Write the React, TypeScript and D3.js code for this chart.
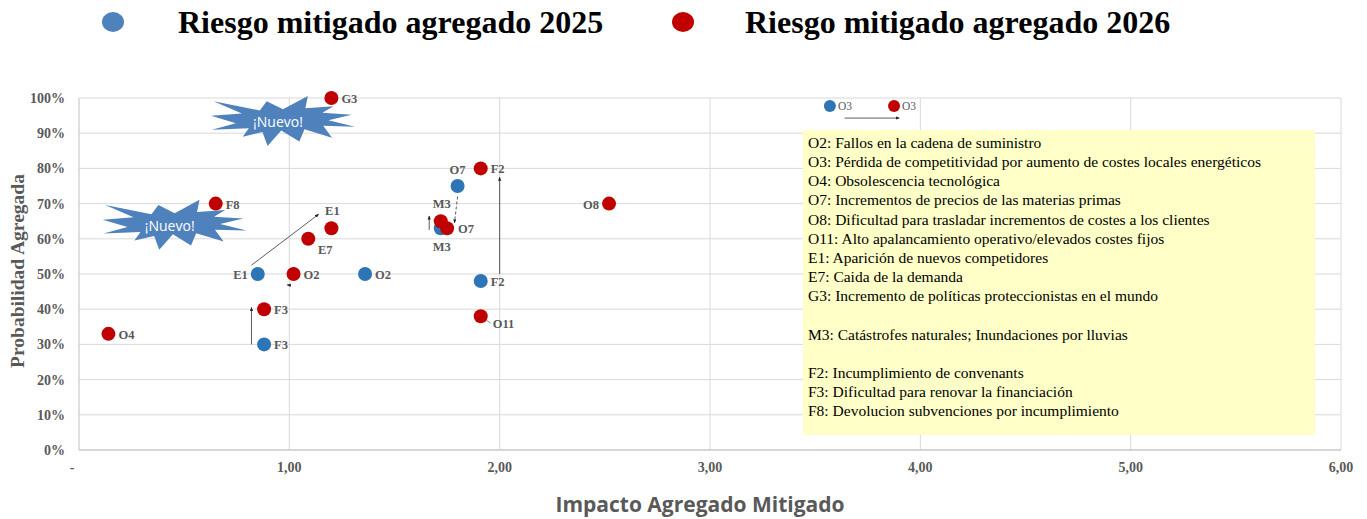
import React from 'react';
import * as d3 from 'd3';

// datos (impacto, probabilidad)
const riesgos2025 = [
  { id: 'E1', impacto: 0.85, prob: 0.50 },
  { id: 'O2', impacto: 1.36, prob: 0.50 },
  { id: 'F3', impacto: 0.88, prob: 0.30 },
  { id: 'O7', impacto: 1.80, prob: 0.75 },
  { id: 'M3', impacto: 1.72, prob: 0.63 },
  { id: 'F2', impacto: 1.91, prob: 0.48 },
  { id: 'O3', impacto: 3.57, prob: 0.977 },
];

const riesgos2026 = [
  { id: 'G3', impacto: 1.20, prob: 1.00 },
  { id: 'F8', impacto: 0.65, prob: 0.70 },
  { id: 'E1', impacto: 1.20, prob: 0.63 },
  { id: 'E7', impacto: 1.09, prob: 0.60 },
  { id: 'O2', impacto: 1.02, prob: 0.50 },
  { id: 'F3', impacto: 0.88, prob: 0.40 },
  { id: 'O4', impacto: 0.14, prob: 0.33 },
  { id: 'M3', impacto: 1.72, prob: 0.65 },
  { id: 'O7', impacto: 1.75, prob: 0.63 },
  { id: 'F2', impacto: 1.91, prob: 0.80 },
  { id: 'O8', impacto: 2.52, prob: 0.70 },
  { id: 'O11', impacto: 1.91, prob: 0.38 },
  { id: 'O3', impacto: 3.875, prob: 0.977 },
];

// flechas de evolución 2025 -> 2026
const flechas = [
  { x1: 0.82, y1: 0.525, x2: 1.14, y2: 0.67, dash: false },
  { x1: 0.82, y1: 0.30, x2: 0.82, y2: 0.405, dash: false },
  { x1: 2.0, y1: 0.50, x2: 2.0, y2: 0.775, dash: false },
  { x1: 1.80, y1: 0.72, x2: 1.785, y2: 0.645, dash: true },
  { x1: 1.665, y1: 0.625, x2: 1.665, y2: 0.665, dash: false },
  { x1: 3.64, y1: 0.943, x2: 3.90, y2: 0.943, dash: false },
  { x1: 1.005, y1: 0.468, x2: 0.99, y2: 0.469, dash: false },
];

const xTicks = [0, 1, 2, 3, 4, 5, 6];
const yTicks = [0, 0.1, 0.2, 0.3, 0.4, 0.5, 0.6, 0.7, 0.8, 0.9, 1.0];

const leyenda = ['Riesgo mitigado agregado 2025', 'Riesgo mitigado agregado 2026'];

const notas = [
  'O2: Fallos en la cadena de suministro',
  'O3: Pérdida de competitividad por aumento de costes locales energéticos',
  'O4: Obsolescencia tecnológica',
  'O7: Incrementos de precios de las materias primas',
  'O8: Dificultad para trasladar incrementos de costes a los clientes',
  'O11: Alto apalancamiento operativo/elevados costes fijos',
  'E1: Aparición de nuevos competidores',
  'E7: Caida de la demanda',
  'G3: Incremento de políticas proteccionistas en el mundo',
  '',
  'M3: Catástrofes naturales; Inundaciones por lluvias',
  '',
  'F2: Incumplimiento de convenants',
  'F3: Dificultad para renovar la financiación',
  'F8: Devolucion subvenciones por incumplimiento',
];

// estrellas "¡Nuevo!" (centro en coordenadas de datos)
const nuevos = [
  { impacto: 0.97, prob: 0.935 },
  { impacto: 0.455, prob: 0.64 },
];

// forma "explosión 1" de Office, normalizada a 21600
const sello = [
  [10800, 5800], [14522, 0], [14155, 5325], [18380, 4457], [16702, 7315],
  [21097, 8137], [17607, 10475], [21600, 13290], [16837, 12942], [18145, 18095],
  [14020, 14457], [13247, 19737], [10532, 14935], [8485, 21600], [7715, 15627],
  [4762, 17617], [5667, 13937], [135, 14587], [3722, 11775], [0, 8615],
  [4627, 7617], [370, 2295], [7312, 6320], [8352, 2295],
];

// posición de las etiquetas [dx, dy, anchor]
const pos2025: Record<string, [number, number, string]> = {
  E1: [-10, 5, 'end'], O2: [10, 5, 'start'], F3: [10, 5, 'start'],
  O7: [0, -12, 'middle'], M3: [1, 23, 'middle'], F2: [10, 5, 'start'], O3: [8, 4, 'start'],
};
const pos2026: Record<string, [number, number, string]> = {
  G3: [10, 5, 'start'], F8: [10, 5, 'start'], E1: [1, -13, 'middle'],
  E7: [17, 15, 'middle'], O2: [10, 5, 'start'], F3: [10, 5, 'start'],
  O4: [10, 5, 'start'], M3: [1, -13, 'middle'], O7: [11, 5, 'start'],
  F2: [10, 5, 'start'], O8: [-10, 5, 'end'], O11: [12, 12, 'start'], O3: [8, 4, 'start'],
};

const AZUL = '#2E75B6';
const ROJO = '#C00000';
const GRIS = '#595959';

const W = 1367;
const H = 519;

const App: React.FC = () => {
  const x = d3.scaleLinear().domain([0, 6]).range([79, 1341]);
  const y = d3.scaleLinear().domain([0, 1]).range([450, 98]);
  const fmtX = (v: number) => (v === 0 ? '-' : d3.format('.2f')(v).replace('.', ','));
  const fmtY = d3.format('.0%');

  const sx = d3.scaleLinear().domain([0, 21600]).range([-72, 72]);
  const sy = d3.scaleLinear().domain([0, 21600]).range([-25, 25]);
  const selloPath = (d3.line()(sello.map(p => [sx(p[0]), sy(p[1])] as [number, number])) || '') + 'Z';

  const serif = '"Liberation Serif", "Times New Roman", serif';

  const punto = (d: { id: string; impacto: number; prob: number }, color: string,
    pos: Record<string, [number, number, string]>, key: string) => {
    const p = pos[d.id];
    const peq = d.id === 'O3';
    return (
      <g key={key}>
        <circle cx={x(d.impacto)} cy={y(d.prob)} r={peq ? 6 : 7} fill={color} />
        <text x={x(d.impacto) + p[0]} y={y(d.prob) + p[1]} textAnchor={p[2] as any}
          fontFamily={serif} fontWeight={peq ? 'normal' : 'bold'} fontSize={peq ? 11.5 : 12.5}
          fill={GRIS}>{d.id}</text>
      </g>
    );
  };

  const o11 = riesgos2026.find(d => d.id === 'O11')!;

  return (
    <svg width={W} height={H} style={{ position: 'absolute', left: 0, top: 0, background: '#fff' }}>
      <defs>
        <marker id="punta" viewBox="0 0 10 10" refX="9" refY="5" markerWidth="5" markerHeight="5" orient="auto">
          <path d="M0,1 L10,5 L0,9 Z" fill="#222" />
        </marker>
      </defs>

      {/* leyenda */}
      <ellipse cx={113} cy={22} rx={11} ry={10} fill="#4F81BD" />
      <text x={178} y={33} fontFamily={serif} fontWeight="bold" fontSize={32} fill="#000">{leyenda[0]}</text>
      <ellipse cx={683} cy={22} rx={11} ry={10} fill={ROJO} />
      <text x={745} y={33} fontFamily={serif} fontWeight="bold" fontSize={32} fill="#000">{leyenda[1]}</text>

      {/* rejilla */}
      {yTicks.map(t => (
        <line key={'gy' + t} x1={x(0)} x2={x(6)} y1={y(t)} y2={y(t)} stroke="#D9D9D9" strokeWidth={1} />
      ))}
      {xTicks.filter(t => t > 0).map(t => (
        <line key={'gx' + t} x1={x(t)} x2={x(t)} y1={y(0)} y2={y(1)} stroke="#D9D9D9" strokeWidth={1} />
      ))}
      <line x1={x(0)} x2={x(0)} y1={y(0)} y2={y(1)} stroke="#BFBFBF" />
      <line x1={x(0)} x2={x(6)} y1={y(0)} y2={y(0)} stroke="#BFBFBF" />

      {/* etiquetas de ejes */}
      {yTicks.map(t => (
        <text key={'ty' + t} x={65} y={y(t) + 5} textAnchor="end" fontFamily={serif}
          fontWeight="bold" fontSize={14} fill={GRIS}>{fmtY(t)}</text>
      ))}
      {xTicks.map(t => (
        <text key={'tx' + t} x={t === 0 ? x(t) - 7 : x(t)} y={472} textAnchor="middle" fontFamily={serif}
          fontWeight="bold" fontSize={14} fill={GRIS}>{fmtX(t)}</text>
      ))}
      <text transform="translate(24,271) rotate(-90)" textAnchor="middle" fontFamily={serif}
        fontWeight="bold" fontSize={19.5} fill={GRIS}>Probabilidad Agregada</text>
      <text x={700} y={512} textAnchor="middle" fontFamily='"Open Sans", sans-serif'
        fontWeight="bold" fontSize={21} fill={GRIS}>Impacto Agregado Mitigado</text>

      {/* cuadro de notas */}
      <rect x={803} y={130} width={512} height={305} fill="#FFFFC8" />
      {notas.map((n, i) => (
        <text key={'n' + i} x={808} y={148 + i * 19.15} fontFamily={serif} fontSize={15.5} fill="#000">{n}</text>
      ))}

      {/* estrellas */}
      {nuevos.map((s, i) => (
        <g key={'s' + i} transform={`translate(${x(s.impacto)},${y(s.prob)})`}>
          <path d={selloPath} fill="#4F81BD" />
          <text x={-5} y={6} textAnchor="middle" fontFamily='"Open Sans", sans-serif' fontSize={14} fill="#fff">¡Nuevo!</text>
        </g>
      ))}

      {/* flechas */}
      {flechas.map((f, i) => (
        <line key={'f' + i} x1={x(f.x1)} y1={y(f.y1)} x2={x(f.x2)} y2={y(f.y2)}
          stroke="#333" strokeWidth={0.8} strokeDasharray={f.dash ? '3,2' : undefined}
          markerEnd="url(#punta)" />
      ))}
      <line x1={x(o11.impacto) + 3} y1={y(o11.prob) + 2} x2={x(o11.impacto) + 10} y2={y(o11.prob) + 7}
        stroke="#777" strokeWidth={0.8} />

      {/* puntos */}
      {riesgos2025.map((d, i) => punto(d, AZUL, pos2025, 'a' + i))}
      {riesgos2026.map((d, i) => punto(d, ROJO, pos2026, 'b' + i))}
    </svg>
  );
};

export default App;
